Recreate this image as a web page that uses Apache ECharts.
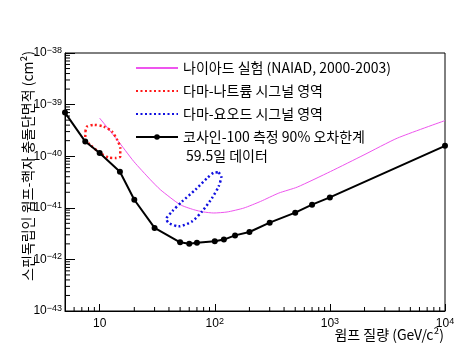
<!DOCTYPE html>
<html><head><meta charset="utf-8">
<script src="https://cdn.jsdelivr.net/npm/echarts@6/dist/echarts.min.js"></script>
<style>html,body{margin:0;padding:0;background:#fff}#c{width:476px;height:357px}</style>
</head><body><div id="c"></div>
<script>
// ---- data ----
const cosineMass = [5, 7.5, 10, 15, 20, 30, 50, 60, 70, 100, 120, 150, 200, 300, 500, 700, 1000, 10000];
const cosineXsec = [7.0e-40, 1.92e-40, 1.15e-40, 5.0e-41, 1.43e-41, 4.07e-42, 2.14e-42, 2.02e-42, 2.11e-42, 2.24e-42, 2.42e-42, 2.92e-42, 3.40e-42, 5.15e-42, 8.04e-42, 1.15e-41, 1.59e-41, 1.59e-40];
const naiadMass = [10, 14.2, 19.8, 27.6, 33.7, 50, 65.6, 80, 98, 128, 179, 250, 360, 521, 1014, 1977, 3854, 10000];
const naiadXsec = [5.46e-40, 2.08e-40, 7.9e-41, 3.5e-41, 2.24e-41, 1.15e-41, 9.2e-42, 8.3e-42, 7.93e-42, 8.3e-42, 9.9e-42, 1.33e-41, 1.93e-41, 2.52e-41, 5.06e-41, 1.06e-40, 2.24e-40, 4.9e-40];
const damaNaMass = [7.52, 7.77, 8.87, 10.8, 12.8, 14.2, 15.1, 15.1, 13.7, 12.0, 10.1, 8.3, 7.5, 7.52];
const damaNaXsec = [3.0e-40, 3.75e-40, 4.05e-40, 3.75e-40, 3.0e-40, 2.07e-40, 1.43e-40, 9.9e-41, 9.2e-41, 9.4e-41, 1.15e-40, 1.66e-40, 2.14e-40, 3.0e-40];
const damaIMass = [108, 114, 108, 94.8, 77.6, 63.5, 48.6, 39.8, 38.0, 42.6, 52.1, 67.9, 85.9, 101, 108];
const damaIXsec = [4.84e-41, 4.05e-41, 2.6e-41, 1.55e-41, 8.5e-42, 5.46e-42, 4.37e-42, 5.08e-42, 6.07e-42, 8.5e-42, 1.33e-41, 2.24e-41, 3.77e-41, 4.9e-41, 4.84e-41];
const seriesNames = ['나이아드 실험 (NAIAD, 2000-2003)', '다마-나트륨 시그널 영역', '다마-요오드 시그널 영역', '코사인-100 측정 90% 오차한계'];
const legendExtra = '59.5일 데이터';
const xTitle = '윔프 질량 (GeV/c²)';
const yTitle = '스핀독립인 윔프-핵자 충돌단면적 (cm²)';
const xMin = 5, xMax = 10000;
const yExpMin = -43, yExpMax = -38;
// tiny widening so the decade ticks at both ends are treated as regular ticks
const yMin = 0.99999 * Math.pow(10, yExpMin), yMax = 1.00001 * Math.pow(10, yExpMax);

// minor tick positions (2..9 x 10^k)
const xMinor = [];
for (let k = 0; k <= 3; k++) for (let m = 2; m <= 9; m++) { const v = m * Math.pow(10, k); if (v > xMin && v < xMax) xMinor.push(v); }
const yMinor = [];
for (let k = yExpMin; k < yExpMax; k++) for (let m = 2; m <= 9; m++) yMinor.push(m * Math.pow(10, k));

const zip = (a, b) => a.map((v, i) => [v, b[i]]);
const isPow = v => { const e = Math.log10(v); return Math.abs(e - Math.round(e)) < 1e-6; };

const chart = echarts.init(document.getElementById('c'), null, {renderer: 'canvas'});
const labelFont = '"Liberation Sans", Arial, sans-serif';
const krFont = '"Noto Sans CJK KR", sans-serif';
const hideSym = {color: 'rgba(0,0,0,0)', opacity: 0, borderWidth: 0};

chart.setOption({
  animation: false,
  backgroundColor: '#fff',
  grid: {left: 65, right: 31, top: 53, bottom: 46, show: true, borderColor: '#000', borderWidth: 1, backgroundColor: 'transparent', containLabel: false, outerBoundsMode: 'none'},
  legend: {
    orient: 'vertical', left: 135, top: 61, itemWidth: 42, itemHeight: 7, itemGap: 9,
    data: [
      {name: seriesNames[0], itemStyle: hideSym},
      {name: seriesNames[1], itemStyle: hideSym},
      {name: seriesNames[2], itemStyle: hideSym},
      {name: seriesNames[3]}
    ],
    selectedMode: false,
    textStyle: {fontFamily: krFont, fontSize: 14, color: '#000', lineHeight: 14, padding: [0, 0, 0, 0]},
    padding: 0
  },
  xAxis: {
    type: 'log', logBase: 10, min: xMin, max: xMax, splitNumber: 3,
    axisLine: {show: true, onZero: false, lineStyle: {color: '#000', width: 1}},
    axisTick: {show: true, inside: true, length: 7, lineStyle: {color: '#000', width: 1}},
    splitLine: {show: false}, minorTick: {show: false}, minorSplitLine: {show: false},
    axisLabel: {
      margin: 6, color: '#000', fontFamily: labelFont, fontSize: 12, showMaxLabel: true,
      formatter: v => { if (!isPow(v)) return ''; const e = Math.round(Math.log10(v)); return e === 1 ? '{b|10}' : '{b|10}{s|' + e + '}'; },
      rich: {b: {fontFamily: labelFont, fontSize: 12, color: '#000', lineHeight: 14}, s: {fontFamily: labelFont, fontSize: 9, color: '#000', lineHeight: 9, verticalAlign: 'top'}}
    }
  },
  yAxis: {
    type: 'log', logBase: 10, min: yMin, max: yMax, splitNumber: 5,
    axisLine: {show: true, onZero: false, lineStyle: {color: '#000', width: 1}},
    axisTick: {show: true, inside: true, length: 10, lineStyle: {color: '#000', width: 1}},
    splitLine: {show: false}, minorTick: {show: false}, minorSplitLine: {show: false},
    axisLabel: {
      margin: 3, color: '#000', fontFamily: labelFont, fontSize: 12, showMinLabel: true, showMaxLabel: true, hideOverlap: false,
      formatter: v => { if (!isPow(v)) return ''; const e = Math.round(Math.log10(v)); return '{b|10}{s|\u2212' + (-e) + '}'; },
      rich: {b: {fontFamily: labelFont, fontSize: 12, color: '#000', lineHeight: 14}, s: {fontFamily: labelFont, fontSize: 9, color: '#000', lineHeight: 9, verticalAlign: 'top'}}
    }
  },
  graphic: [
    {type: 'text', x: 28, y: 51, rotation: Math.PI / 2, style: {text: yTitle, align: 'right', verticalAlign: 'middle', font: '14px ' + krFont, fill: '#000'}},
    {type: 'text', x: 444, y: 335, style: {text: xTitle, align: 'right', verticalAlign: 'middle', font: '14px ' + krFont, fill: '#000'}},
    {type: 'text', x: 186, y: 156, style: {text: legendExtra, align: 'left', verticalAlign: 'middle', font: '14px ' + krFont, fill: '#000'}}
  ],
  series: [
    {name: seriesNames[0], type: 'line', data: zip(naiadMass, naiadXsec), symbol: 'none', smooth: 0.2,
     lineStyle: {color: '#ee55ee', width: 1}, itemStyle: {color: '#ee55ee'}, z: 3},
    {name: seriesNames[1], type: 'line', data: zip(damaNaMass, damaNaXsec), symbol: 'none', smooth: 0.25,
     lineStyle: {color: '#ff1a1a', width: 2.5, type: [2, 2.5]}, itemStyle: {color: '#ff1a1a'}, z: 3},
    {name: seriesNames[2], type: 'line', data: zip(damaIMass, damaIXsec), symbol: 'none', smooth: 0.25,
     lineStyle: {color: '#1010e0', width: 2.5, type: [2, 2.5]}, itemStyle: {color: '#1010e0'}, z: 3},
    {name: seriesNames[3], type: 'line', data: zip(cosineMass, cosineXsec), symbol: 'circle', symbolSize: 6, showSymbol: true,
     lineStyle: {color: '#000', width: 2}, itemStyle: {color: '#000'}, z: 4},
    {type: 'custom', silent: true, clip: false, z: 5, data: xMinor.map(v => [v, yMin]),
     renderItem: (p, api) => { const c = api.coord([api.value(0), yMin]); return {type: 'line', shape: {x1: c[0], y1: c[1], x2: c[0], y2: c[1] - 4}, style: {stroke: '#000', lineWidth: 1}}; }},
    {type: 'custom', silent: true, clip: false, z: 5, data: yMinor.map(v => [xMin, v]),
     renderItem: (p, api) => { const c = api.coord([xMin, api.value(1)]); return {type: 'line', shape: {x1: c[0], y1: c[1], x2: c[0] + 5, y2: c[1]}, style: {stroke: '#000', lineWidth: 1}}; }}
  ]
});
</script>
</body></html>
